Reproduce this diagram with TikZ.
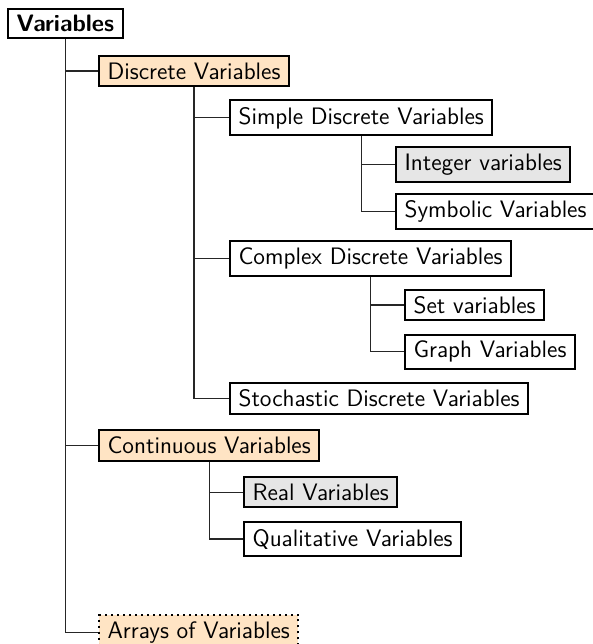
\documentclass[tikz,border=0pt]{standalone}
\usepackage{fontspec}
\definecolor{boxorange}{RGB}{255,228,196}
\definecolor{boxgray}{RGB}{230,230,230}
\tikzset{
  item/.style={draw=black, line width=1pt, anchor=west, inner xsep=4.3pt, inner ysep=3.3pt,
    font=\fontsize{11.9}{14.2}\selectfont\sffamily, fill=white},
  orangebox/.style={item, fill=boxorange},
  graybox/.style={item, fill=boxgray},
  rootbox/.style={item, font=\fontsize{11.9}{14.2}\selectfont\sffamily\bfseries},
  link/.style={draw=black!85, line width=0.6pt}
}
\begin{document}
\begin{tikzpicture}[x=0.5pt,y=-0.5pt]
\useasboundingbox (0,0) rectangle (593,644);
\node[rootbox] (v) at (7,23.5) {Variables};
\node[orangebox] (d) at (98,71) {Discrete Variables};
\node[item] (sd) at (229,117.8) {Simple Discrete Variables};
\node[graybox] (iv) at (395,164.6) {Integer variables};
\node[item] (sv) at (395,211.4) {Symbolic Variables};
\node[item] (cd) at (229,258.2) {Complex Discrete Variables};
\node[item] (setv) at (404,305) {Set variables};
\node[item] (gv) at (404,351.8) {Graph Variables};
\node[item] (std) at (229,398.6) {Stochastic Discrete Variables};
\node[orangebox] (cv) at (98,445.4) {Continuous Variables};
\node[graybox] (rv) at (243,492.2) {Real Variables};
\node[item] (qv) at (243,539) {Qualitative Variables};
\node[orangebox, dotted] (av) at (98,632.6) {Arrays of Variables};
\draw[link] (v.south) |- (d.west);
\draw[link] (v.south) |- (cv.west);
\draw[link] (v.south) |- (av.west);
\draw[link] (d.south) |- (sd.west);
\draw[link] (d.south) |- (cd.west);
\draw[link] (d.south) |- (std.west);
\draw[link] (sd.south) |- (iv.west);
\draw[link] (sd.south) |- (sv.west);
\draw[link] (cd.south) |- (setv.west);
\draw[link] (cd.south) |- (gv.west);
\draw[link] (cv.south) |- (rv.west);
\draw[link] (cv.south) |- (qv.west);
\end{tikzpicture}
\end{document}
